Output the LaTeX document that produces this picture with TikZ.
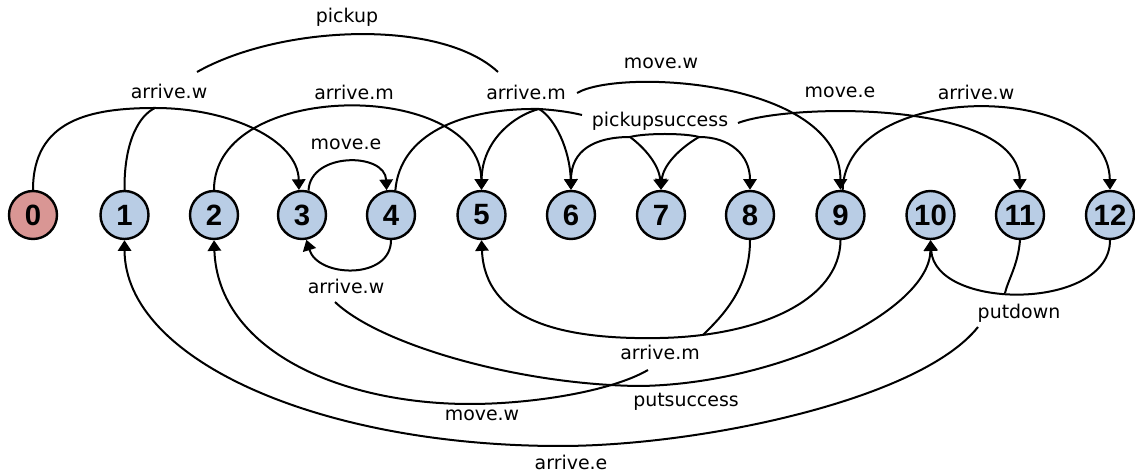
\documentclass[tikz,border=0pt]{standalone}
\usepackage{fontspec}
\setmainfont{DejaVu Sans}
\newfontfamily\statefont{Liberation Sans}
\usetikzlibrary{arrows.meta}

\tikzset{every picture/.style={line width=1.5pt}}
\tikzset{
  state/.style={circle, draw, line width=1.8pt, minimum size=36pt, inner sep=0pt,
    fill={rgb, 255:red, 185; green, 205; blue, 229 },
    font=\statefont\bfseries\fontsize{22}{24}\selectfont},
  firststate/.style={state, fill={rgb, 255:red, 217; green, 150; blue, 148 }},
  ev/.style={fill=white, inner sep=1pt, font=\fontsize{14.2}{17}\selectfont},
  arrowed/.style={-{Triangle[width=10pt,length=8pt]}},
}

\begin{document}
\begin{tikzpicture}[x=0.75pt,y=0.75pt,yscale=-1,xscale=1]
	\useasboundingbox (0,0) rectangle (1135,473);

	% States
	\node[firststate] (s0) at (33,215) {0};
	\node[state] (s1) at (124.5,215) {1};
	\node[state] (s2) at (214,215) {2};
	\node[state] (s3) at (302,215) {3};
	\node[state] (s4) at (391,215) {4};
	\node[state] (s5) at (481.5,215) {5};
	\node[state] (s6) at (571,215) {6};
	\node[state] (s7) at (661,215) {7};
	\node[state] (s8) at (750,215) {8};
	\node[state] (s9) at (840.5,215) {9};
	\node[state] (s10) at (930.5,215) {10};
	\node[state] (s11) at (1020,215) {11};
	\node[state] (s12) at (1110,215) {12};

	% Junctions and free ends
	\coordinate (jaw) at (155,108);
	\coordinate (jam) at (539,109);
	\coordinate (psa) at (630,137);
	\coordinate (psb) at (699,137);
	\coordinate (jamb) at (703,335);
	\coordinate (jpd) at (1005,293);
	\coordinate (pka) at (197,72);
	\coordinate (pkb) at (498,72);
	\coordinate (mwa) at (577,93);
	\coordinate (mec) at (582,115);
	\coordinate (mea) at (738,123);
	\coordinate (psc) at (335,302);
	\coordinate (mwb) at (648,370);
	\coordinate (aea) at (978,327);

	% pickup
	\draw (pka) .. controls (280,25) and (440,18) .. (pkb);
	% arrive.w, top left
	\draw (s0.north) .. controls (33,120) and (90,108) .. (jaw);
	\draw[arrowed] (jaw) .. controls (230,108) and (298,140) .. (s3.97);
	\draw (s1.north) .. controls (124,140) and (140,115) .. (jaw);
	% arrive.m, top left
	\draw[arrowed] (s2.north) .. controls (214,79) and (480,79) .. (s5.north);
	% move.e, small loop
	\draw[arrowed] (s3.75) .. controls (310,152) and (385,152) .. (s4.100);
	% arrive.m, top right
	\draw (s4.80) .. controls (400,135) and (460,108) .. (jam);
	\draw[arrowed] (jam) .. controls (515,115) and (482,140) .. (s5.north);
	\draw[arrowed] (jam) .. controls (555,118) and (570,150) .. (s6.north);
	\draw (jam) .. controls (555,110) and (570,112) .. (mec);
	% move.w, top
	\draw[arrowed] (mwa) .. controls (620,68) and (840,80) .. (s9.north);
	% pickupsuccess
	\draw (psa) .. controls (645,133) and (685,133) .. (psb);
	\draw[arrowed] (psa) .. controls (595,137) and (571,150) .. (s6.north);
	\draw[arrowed] (psa) .. controls (645,148) and (659,165) .. (s7.north);
	\draw[arrowed] (psb) .. controls (680,148) and (663,165) .. (s7.north);
	\draw[arrowed] (psb) .. controls (730,137) and (750,155) .. (s8.north);
	% move.e, top right
	\draw[arrowed] (mea) .. controls (790,103) and (1018,100) .. (s11.north);
	% arrive.w, top right
	\draw[arrowed] (s9.85) .. controls (845,80) and (1108,80) .. (s12.north);

	% arrive.w, bottom
	\draw[arrowed] (s4.south) .. controls (391,280) and (318,278) .. (s3.-80);
	% putsuccess
	\draw[arrowed] (psc) .. controls (380,345) and (520,385) .. (640,386) .. controls (780,384) and (930,310) .. (s10.south);
	% arrive.m, bottom
	\draw[arrowed] (s9.south) .. controls (840,300) and (760,336) .. (660,338) .. controls (560,340) and (485,320) .. (s5.south);
	\draw (s8.south) .. controls (750,290) and (720,318) .. (jamb);
	% move.w, bottom
	\draw[arrowed] (mwb) .. controls (610,392) and (530,404) .. (470,404) .. controls (340,404) and (218,350) .. (s2.south);
	% putdown
	\draw[arrowed] (s12.south) .. controls (1110,311) and (935,311) .. (s10.south);
	\draw (s11.south) .. controls (1018,265) and (1008,280) .. (jpd);
	% arrive.e
	\draw[arrowed] (aea) .. controls (920,400) and (700,446) .. (560,446) .. controls (320,446) and (125,360) .. (s1.south);

	% Labels
	\node[ev] (pickup) at (347,17.5) {pickup};
	\node[ev] (arrw1) at (169,91.5) {arrive.w};
	\node[ev] (arrm1) at (354,92) {arrive.m};
	\node[ev] (move1) at (346,144.5) {move.e};
	\node[ev] (arrm2) at (526,92.5) {arrive.m};
	\node[ev] (movw1) at (661,63.5) {move.w};
	\node[ev] (picks) at (660,121.5) {pickupsuccess};
	\node[ev] (move2) at (840,92) {move.e};
	\node[ev] (arrw2) at (976,92) {arrive.w};
	\node[ev] (arrw3) at (346,286.5) {arrive.w};
	\node[ev] (arrm3) at (660,352.5) {arrive.m};
	\node[ev] (puts) at (686,401.5) {putsuccess};
	\node[ev] (movw2) at (482,415.5) {move.w};
	\node[ev] (putd) at (1019,313.5) {putdown};
	\node[ev] (arre) at (571,462.5) {arrive.e};

\end{tikzpicture}
\end{document}
